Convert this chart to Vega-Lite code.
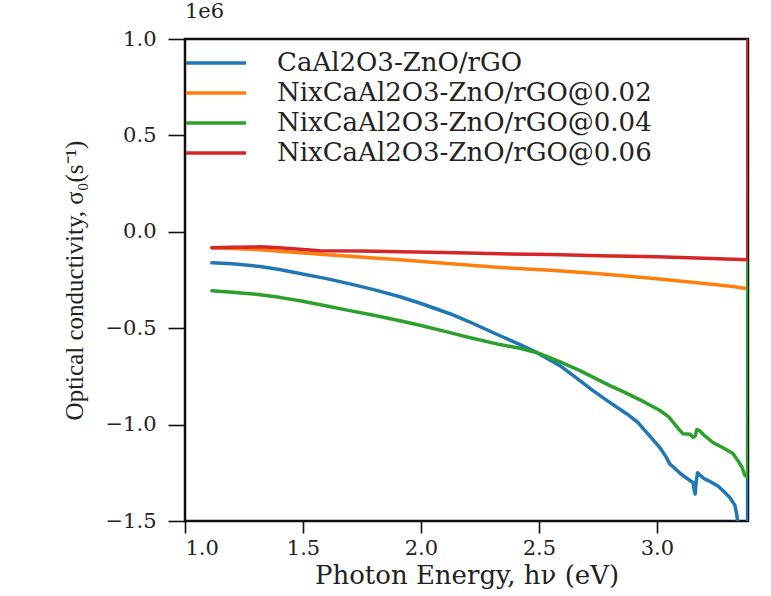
{
  "$schema": "https://vega.github.io/schema/vega-lite/v6.json",
  "autosize": {"type": "none"},
  "width": 563,
  "height": 482,
  "padding": {"left": 185, "top": 39, "right": 23, "bottom": 75},
  "background": "white",
  "title": {"text": "1e6", "anchor": "start", "frame": "group", "offset": 6, "fontSize": 21, "font": "DejaVu Serif", "fontWeight": "normal", "color": "#222"},
  "config": {
    "view": {"stroke": "#111", "strokeWidth": 2.5},
    "axis": {"domain": false, "grid": false, "tickColor": "#111", "tickWidth": 1.6, "labelFont": "DejaVu Serif", "labelFontSize": 21, "labelColor": "#222", "titleFont": "DejaVu Serif", "titleFontWeight": "normal", "titleColor": "#222"}
  },
  "data": {"values": [
    {"s":"CaAl2O3-ZnO/rGO","x":1.114,"y":-161000},
    {"s":"CaAl2O3-ZnO/rGO","x":1.2,"y":-166000},
    {"s":"CaAl2O3-ZnO/rGO","x":1.318,"y":-180000},
    {"s":"CaAl2O3-ZnO/rGO","x":1.4,"y":-196000},
    {"s":"CaAl2O3-ZnO/rGO","x":1.487,"y":-216000},
    {"s":"CaAl2O3-ZnO/rGO","x":1.6,"y":-243000},
    {"s":"CaAl2O3-ZnO/rGO","x":1.699,"y":-270000},
    {"s":"CaAl2O3-ZnO/rGO","x":1.8,"y":-300000},
    {"s":"CaAl2O3-ZnO/rGO","x":1.911,"y":-337000},
    {"s":"CaAl2O3-ZnO/rGO","x":2.0,"y":-372000},
    {"s":"CaAl2O3-ZnO/rGO","x":2.123,"y":-425000},
    {"s":"CaAl2O3-ZnO/rGO","x":2.2,"y":-464000},
    {"s":"CaAl2O3-ZnO/rGO","x":2.335,"y":-539000},
    {"s":"CaAl2O3-ZnO/rGO","x":2.42,"y":-585000},
    {"s":"CaAl2O3-ZnO/rGO","x":2.492,"y":-627000},
    {"s":"CaAl2O3-ZnO/rGO","x":2.589,"y":-694000},
    {"s":"CaAl2O3-ZnO/rGO","x":2.661,"y":-760000},
    {"s":"CaAl2O3-ZnO/rGO","x":2.729,"y":-824000},
    {"s":"CaAl2O3-ZnO/rGO","x":2.8,"y":-885000},
    {"s":"CaAl2O3-ZnO/rGO","x":2.873,"y":-945000},
    {"s":"CaAl2O3-ZnO/rGO","x":2.92,"y":-990000},
    {"s":"CaAl2O3-ZnO/rGO","x":2.941,"y":-1020000},
    {"s":"CaAl2O3-ZnO/rGO","x":2.97,"y":-1060000},
    {"s":"CaAl2O3-ZnO/rGO","x":3.013,"y":-1120000},
    {"s":"CaAl2O3-ZnO/rGO","x":3.04,"y":-1170000},
    {"s":"CaAl2O3-ZnO/rGO","x":3.055,"y":-1205000},
    {"s":"CaAl2O3-ZnO/rGO","x":3.07,"y":-1220000},
    {"s":"CaAl2O3-ZnO/rGO","x":3.1,"y":-1255000},
    {"s":"CaAl2O3-ZnO/rGO","x":3.14,"y":-1290000},
    {"s":"CaAl2O3-ZnO/rGO","x":3.153,"y":-1300000},
    {"s":"CaAl2O3-ZnO/rGO","x":3.158,"y":-1340000},
    {"s":"CaAl2O3-ZnO/rGO","x":3.162,"y":-1360000},
    {"s":"CaAl2O3-ZnO/rGO","x":3.166,"y":-1300000},
    {"s":"CaAl2O3-ZnO/rGO","x":3.172,"y":-1250000},
    {"s":"CaAl2O3-ZnO/rGO","x":3.18,"y":-1260000},
    {"s":"CaAl2O3-ZnO/rGO","x":3.2,"y":-1280000},
    {"s":"CaAl2O3-ZnO/rGO","x":3.225,"y":-1295000},
    {"s":"CaAl2O3-ZnO/rGO","x":3.26,"y":-1320000},
    {"s":"CaAl2O3-ZnO/rGO","x":3.29,"y":-1355000},
    {"s":"CaAl2O3-ZnO/rGO","x":3.309,"y":-1378000},
    {"s":"CaAl2O3-ZnO/rGO","x":3.331,"y":-1420000},
    {"s":"CaAl2O3-ZnO/rGO","x":3.34,"y":-1480000},
    {"s":"CaAl2O3-ZnO/rGO","x":3.348,"y":-1560000},
    {"s":"CaAl2O3-ZnO/rGO","x":3.36,"y":-1650000},
    {"s":"CaAl2O3-ZnO/rGO","x":3.384,"y":-1650000},
    {"s":"CaAl2O3-ZnO/rGO","x":3.3862,"y":3000000},
    {"s":"NixCaAl2O3-ZnO/rGO@0.02","x":1.114,"y":-83000},
    {"s":"NixCaAl2O3-ZnO/rGO@0.02","x":1.2,"y":-86000},
    {"s":"NixCaAl2O3-ZnO/rGO@0.02","x":1.318,"y":-93000},
    {"s":"NixCaAl2O3-ZnO/rGO@0.02","x":1.4,"y":-101000},
    {"s":"NixCaAl2O3-ZnO/rGO@0.02","x":1.487,"y":-109000},
    {"s":"NixCaAl2O3-ZnO/rGO@0.02","x":1.6,"y":-119000},
    {"s":"NixCaAl2O3-ZnO/rGO@0.02","x":1.7,"y":-127000},
    {"s":"NixCaAl2O3-ZnO/rGO@0.02","x":1.8,"y":-136000},
    {"s":"NixCaAl2O3-ZnO/rGO@0.02","x":1.911,"y":-145000},
    {"s":"NixCaAl2O3-ZnO/rGO@0.02","x":2.1,"y":-163000},
    {"s":"NixCaAl2O3-ZnO/rGO@0.02","x":2.335,"y":-185000},
    {"s":"NixCaAl2O3-ZnO/rGO@0.02","x":2.55,"y":-200000},
    {"s":"NixCaAl2O3-ZnO/rGO@0.02","x":2.758,"y":-218000},
    {"s":"NixCaAl2O3-ZnO/rGO@0.02","x":3.0,"y":-243000},
    {"s":"NixCaAl2O3-ZnO/rGO@0.02","x":3.2,"y":-268000},
    {"s":"NixCaAl2O3-ZnO/rGO@0.02","x":3.322,"y":-284000},
    {"s":"NixCaAl2O3-ZnO/rGO@0.02","x":3.385,"y":-295000},
    {"s":"NixCaAl2O3-ZnO/rGO@0.02","x":3.3862,"y":3000000},
    {"s":"NixCaAl2O3-ZnO/rGO@0.04","x":1.114,"y":-306000},
    {"s":"NixCaAl2O3-ZnO/rGO@0.04","x":1.2,"y":-313000},
    {"s":"NixCaAl2O3-ZnO/rGO@0.04","x":1.318,"y":-326000},
    {"s":"NixCaAl2O3-ZnO/rGO@0.04","x":1.4,"y":-340000},
    {"s":"NixCaAl2O3-ZnO/rGO@0.04","x":1.487,"y":-358000},
    {"s":"NixCaAl2O3-ZnO/rGO@0.04","x":1.6,"y":-385000},
    {"s":"NixCaAl2O3-ZnO/rGO@0.04","x":1.699,"y":-409000},
    {"s":"NixCaAl2O3-ZnO/rGO@0.04","x":1.8,"y":-433000},
    {"s":"NixCaAl2O3-ZnO/rGO@0.04","x":1.911,"y":-461000},
    {"s":"NixCaAl2O3-ZnO/rGO@0.04","x":2.0,"y":-486000},
    {"s":"NixCaAl2O3-ZnO/rGO@0.04","x":2.123,"y":-523000},
    {"s":"NixCaAl2O3-ZnO/rGO@0.04","x":2.2,"y":-547000},
    {"s":"NixCaAl2O3-ZnO/rGO@0.04","x":2.335,"y":-585000},
    {"s":"NixCaAl2O3-ZnO/rGO@0.04","x":2.42,"y":-604000},
    {"s":"NixCaAl2O3-ZnO/rGO@0.04","x":2.492,"y":-627000},
    {"s":"NixCaAl2O3-ZnO/rGO@0.04","x":2.58,"y":-670000},
    {"s":"NixCaAl2O3-ZnO/rGO@0.04","x":2.674,"y":-720000},
    {"s":"NixCaAl2O3-ZnO/rGO@0.04","x":2.758,"y":-772000},
    {"s":"NixCaAl2O3-ZnO/rGO@0.04","x":2.801,"y":-798000},
    {"s":"NixCaAl2O3-ZnO/rGO@0.04","x":2.85,"y":-825000},
    {"s":"NixCaAl2O3-ZnO/rGO@0.04","x":2.9,"y":-855000},
    {"s":"NixCaAl2O3-ZnO/rGO@0.04","x":2.95,"y":-885000},
    {"s":"NixCaAl2O3-ZnO/rGO@0.04","x":3.013,"y":-927000},
    {"s":"NixCaAl2O3-ZnO/rGO@0.04","x":3.05,"y":-960000},
    {"s":"NixCaAl2O3-ZnO/rGO@0.04","x":3.09,"y":-1020000},
    {"s":"NixCaAl2O3-ZnO/rGO@0.04","x":3.11,"y":-1047000},
    {"s":"NixCaAl2O3-ZnO/rGO@0.04","x":3.14,"y":-1050000},
    {"s":"NixCaAl2O3-ZnO/rGO@0.04","x":3.153,"y":-1065000},
    {"s":"NixCaAl2O3-ZnO/rGO@0.04","x":3.162,"y":-1060000},
    {"s":"NixCaAl2O3-ZnO/rGO@0.04","x":3.169,"y":-1026000},
    {"s":"NixCaAl2O3-ZnO/rGO@0.04","x":3.18,"y":-1030000},
    {"s":"NixCaAl2O3-ZnO/rGO@0.04","x":3.2,"y":-1055000},
    {"s":"NixCaAl2O3-ZnO/rGO@0.04","x":3.237,"y":-1093000},
    {"s":"NixCaAl2O3-ZnO/rGO@0.04","x":3.28,"y":-1120000},
    {"s":"NixCaAl2O3-ZnO/rGO@0.04","x":3.322,"y":-1150000},
    {"s":"NixCaAl2O3-ZnO/rGO@0.04","x":3.345,"y":-1190000},
    {"s":"NixCaAl2O3-ZnO/rGO@0.04","x":3.36,"y":-1220000},
    {"s":"NixCaAl2O3-ZnO/rGO@0.04","x":3.373,"y":-1264000},
    {"s":"NixCaAl2O3-ZnO/rGO@0.04","x":3.385,"y":-1270000},
    {"s":"NixCaAl2O3-ZnO/rGO@0.04","x":3.3862,"y":3000000},
    {"s":"NixCaAl2O3-ZnO/rGO@0.06","x":1.114,"y":-83000},
    {"s":"NixCaAl2O3-ZnO/rGO@0.06","x":1.2,"y":-80000},
    {"s":"NixCaAl2O3-ZnO/rGO@0.06","x":1.318,"y":-78000},
    {"s":"NixCaAl2O3-ZnO/rGO@0.06","x":1.4,"y":-83000},
    {"s":"NixCaAl2O3-ZnO/rGO@0.06","x":1.487,"y":-90000},
    {"s":"NixCaAl2O3-ZnO/rGO@0.06","x":1.57,"y":-98000},
    {"s":"NixCaAl2O3-ZnO/rGO@0.06","x":1.75,"y":-100000},
    {"s":"NixCaAl2O3-ZnO/rGO@0.06","x":1.911,"y":-104000},
    {"s":"NixCaAl2O3-ZnO/rGO@0.06","x":2.1,"y":-108000},
    {"s":"NixCaAl2O3-ZnO/rGO@0.06","x":2.335,"y":-114000},
    {"s":"NixCaAl2O3-ZnO/rGO@0.06","x":2.55,"y":-118000},
    {"s":"NixCaAl2O3-ZnO/rGO@0.06","x":2.758,"y":-124000},
    {"s":"NixCaAl2O3-ZnO/rGO@0.06","x":3.0,"y":-130000},
    {"s":"NixCaAl2O3-ZnO/rGO@0.06","x":3.2,"y":-137000},
    {"s":"NixCaAl2O3-ZnO/rGO@0.06","x":3.385,"y":-145000},
    {"s":"NixCaAl2O3-ZnO/rGO@0.06","x":3.3862,"y":3000000}
  ]},
  "mark": {"type": "line", "strokeWidth": 3.5, "clip": true, "strokeCap": "round", "strokeJoin": "round"},
  "encoding": {
    "x": {"field": "x", "type": "quantitative",
      "scale": {"domain": [1.0, 3.386], "nice": false, "zero": false},
      "axis": {"values": [1.0, 1.5, 2.0, 2.5, 3.0], "format": ".1f", "tickSize": 12, "labelPadding": 4, "title": "Photon Energy, hν (eV)", "titleFontSize": 26, "titlePadding": 4}},
    "y": {"field": "y", "type": "quantitative",
      "scale": {"domain": [-1500000, 1000000], "nice": false, "zero": false},
      "axis": {"values": [-1500000, -1000000, -500000, 0, 500000, 1000000], "labelExpr": "format(datum.value/1000000, '.1f')", "tickSize": 17, "labelPadding": 12, "title": "Optical conductivity, σ₀(s⁻¹)", "titleFont": "Times New Roman, Liberation Serif, serif", "titleFontSize": 25, "titlePadding": 18}},
    "color": {"field": "s", "type": "nominal",
      "scale": {"domain": ["CaAl2O3-ZnO/rGO", "NixCaAl2O3-ZnO/rGO@0.02", "NixCaAl2O3-ZnO/rGO@0.04", "NixCaAl2O3-ZnO/rGO@0.06"], "range": ["#1f77b4", "#ff7f0e", "#2ca02c", "#d62728"]},
      "legend": {"title": null, "orient": "none", "legendX": 14, "legendY": 7, "padding": 0, "symbolType": "M-2,0H2", "symbolSize": 900, "symbolStrokeWidth": 3.5, "symbolFillColor": "transparent", "labelFont": "DejaVu Serif", "labelFontSize": 26, "labelColor": "#222", "labelOffset": 44, "rowPadding": -2, "labelLimit": 500}}
  }
}
